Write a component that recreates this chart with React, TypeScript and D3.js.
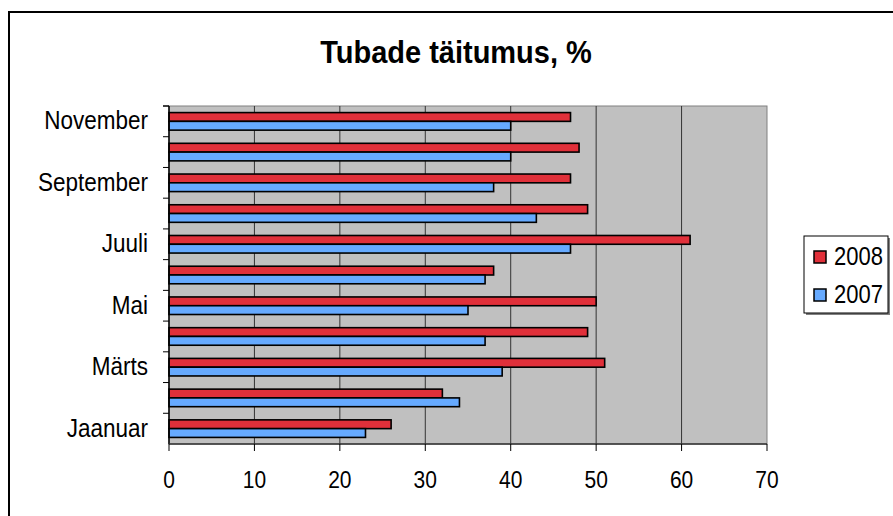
import React from "react";
import * as d3 from "d3";

const months = ["Jaanuar", "Veebruar", "Märts", "Aprill", "Mai", "Juuni", "Juuli", "August", "September", "Oktoober", "November"];
const seriesNames = ["2008", "2007"];
const values2008 = [26, 32, 51, 49, 50, 38, 61, 49, 47, 48, 47];
const values2007 = [23, 34, 39, 37, 35, 37, 47, 43, 38, 40, 40];
const xTicks = [0, 10, 20, 30, 40, 50, 60, 70];
const title = "Tubade täitumus, %";

const colors: Record<string, string> = { "2008": "#E0303A", "2007": "#66AAFF" };
const font = "'Liberation Sans', Arial, sans-serif";

function T(props: { x: number; y: number; size: number; anchor?: string; bold?: boolean; sy?: number; children: React.ReactNode }) {
  const sy = props.sy ?? 1.13;
  return (
    <text transform={`translate(${props.x},${props.y}) scale(1,${sy})`} textAnchor={props.anchor ?? "start"}
      fontFamily={font} fontSize={props.size} fontWeight={props.bold ? "bold" : "normal"}>{props.children}</text>
  );
}

export default function App() {
  const W = 893, H = 516;
  const px0 = 169, px1 = 767, py0 = 106, py1 = 444;
  const x = d3.scaleLinear().domain([0, 70]).range([px0, px1]);
  const y = d3.scaleBand<string>().domain(months).range([py1, py0]).padding(0);
  const sub = d3.scaleBand<string>().domain(seriesNames).range([0, y.bandwidth()]).paddingInner(0).paddingOuter(0.75);
  const data: Record<string, number[]> = { "2008": values2008, "2007": values2007 };
  const boundaries = months.map((m) => y(m)!).concat([py0]);
  return (
    <svg width={W} height={H} style={{ position: "absolute", left: 0, top: 0, background: "#fff" }}>
      <rect x={9} y={12} width={900} height={520} fill="#fff" stroke="#000" strokeWidth={2} />
      <T x={456} y={63} size={29} anchor="middle" bold sy={1.1}>{title}</T>
      <rect x={px0} y={py0} width={px1 - px0} height={py1 - py0} fill="#C0C0C0" stroke="#808080" strokeWidth={1} />
      {xTicks.slice(1, -1).map((t) => (
        <line key={t} x1={x(t)} x2={x(t)} y1={py0} y2={py1} stroke="#333" strokeWidth={1} />
      ))}
      {months.map((m, i) =>
        seriesNames.map((s) => (
          <rect key={m + s} x={x(0)} y={y(m)! + sub(s)!} width={x(data[s][i]) - x(0)} height={sub.bandwidth()}
            fill={colors[s]} stroke="#000" strokeWidth={1.6} />
        ))
      )}
      <line x1={px0} x2={px0} y1={py0} y2={py1} stroke="#000" strokeWidth={1.5} />
      <line x1={px0} x2={px1} y1={py1} y2={py1} stroke="#333" strokeWidth={1.5} />
      {boundaries.map((b, i) => (
        <line key={i} x1={px0 - 6} x2={px0} y1={b} y2={b} stroke="#000" strokeWidth={1} />
      ))}
      {xTicks.map((t) => (
        <g key={t}>
          <line x1={x(t)} x2={x(t)} y1={py1} y2={py1 + 7} stroke="#000" strokeWidth={1} />
          <T x={x(t)} y={488} size={21} anchor="middle">{t}</T>
        </g>
      ))}
      {months.map((m, i) =>
        i % 2 === 0 ? (
          <T key={m} x={148} y={y(m)! + y.bandwidth() / 2 + 8} size={22.5} anchor="end">{m}</T>
        ) : null
      )}
      <rect x={806} y={238} width={84} height={77} fill="#808080" />
      <rect x={804} y={236} width={84} height={77} fill="#fff" stroke="#000" strokeWidth={1} />
      {seriesNames.map((s, i) => (
        <g key={s}>
          <rect x={814} y={251 + i * 38} width={12} height={12} fill={colors[s]} stroke="#000" strokeWidth={1.5} />
          <T x={834} y={265 + i * 38} size={22}>{s}</T>
        </g>
      ))}
    </svg>
  );
}
